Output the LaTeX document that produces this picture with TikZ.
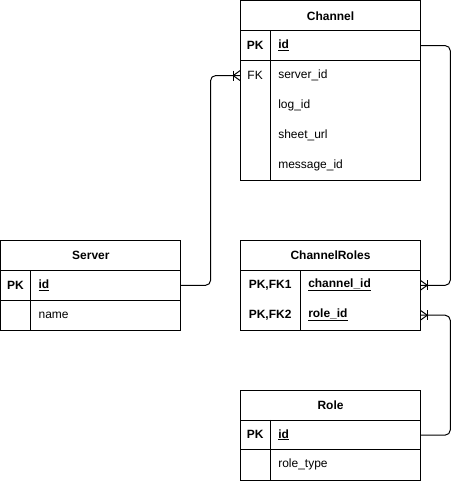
\documentclass[tikz,border=0pt]{standalone}
\usepackage{fontspec}
\setmainfont{Liberation Sans}
\begin{document}
\begin{tikzpicture}[x=1pt,y=-1pt,
  every node/.style={font=\fontsize{12pt}{14pt}\selectfont},
  cell/.style={draw, line width=1pt, rectangle, inner sep=0pt, anchor=north west, minimum width=180pt},
  row/.style={rectangle, inner sep=0pt, anchor=north west, minimum width=180pt, minimum height=30pt},
  keytxt/.style={font=\fontsize{12pt}{14pt}\selectfont\bfseries, inner sep=0pt, anchor=center},
  fktxt/.style={inner sep=0pt, anchor=center},
  attr/.style={inner sep=0pt, anchor=west},
  sep/.style={line width=1pt},
  rel/.style={line width=1pt, rounded corners=5pt},
  foot/.style={line width=1pt}
]
\useasboundingbox (-0.5,-0.5) rectangle (458.5,481.2);

% ---------------- Channel ----------------
\node[cell, minimum height=30pt] (chT) at (240,0) {\bfseries Channel};
\node[cell, minimum height=150pt] (chB) at (240,30) {};
\draw[sep] (chB.north west) ++(30,0) -- ++(0,150);
\draw[sep] (240,60) -- (420,60);
\node[row] (chRid) at (240,30) {};
\node[row] (chRsrv) at (240,60) {};
\node[row] (chRlog) at (240,90) {};
\node[row] (chRsheet) at (240,120) {};
\node[row] (chRmsg) at (240,150) {};
\node[keytxt] (chPK) at (255,45) {PK};
\node[attr] (chid) at (278,45) {\bfseries\underline{id}};
\node[fktxt] (chFK) at (255,75) {FK};
\node[attr] (chsrv) at (278,75) {server\_id};
\node[attr] (chlog) at (278,105) {log\_id};
\node[attr] (chsheet) at (278,135) {sheet\_url};
\node[attr] (chmsg) at (278,165) {message\_id};

% ---------------- Server ----------------
\node[cell, minimum height=30pt] (svT) at (0,240) {\bfseries Server};
\node[cell, minimum height=60pt] (svB) at (0,270) {};
\draw[sep] (30,270) -- (30,330);
\draw[sep] (0,300) -- (180,300);
\node[row] (svRid) at (0,270) {};
\node[row] (svRname) at (0,300) {};
\node[keytxt] (svPK) at (15,285) {PK};
\node[attr] (svid) at (38,285) {\bfseries\underline{id}};
\node[attr] (svname) at (38,315) {name};

% ---------------- ChannelRoles ----------------
\node[cell, minimum height=30pt] (crT) at (240,240) {\bfseries ChannelRoles};
\node[cell, minimum height=60pt] (crB) at (240,270) {};
\draw[sep] (300,270) -- (300,330);
\node[row] (crRch) at (240,270) {};
\node[row] (crRrole) at (240,300) {};
\node[keytxt] (crK1) at (270,285) {PK,FK1};
\node[keytxt] (crK2) at (270,315) {PK,FK2};
\node[attr] (crch) at (308,285) {\bfseries\underline{channel\_id}};
\node[attr] (crrole) at (308,315) {\bfseries\underline{role\_id}};

% ---------------- Role ----------------
\node[cell, minimum height=30pt] (roT) at (240,390) {\bfseries Role};
\node[cell, minimum height=60pt] (roB) at (240,420) {};
\draw[sep] (270,420) -- (270,480);
\draw[sep] (240,450) -- (420,450);
\node[row] (roRid) at (240,420) {};
\node[row] (roRtype) at (240,450) {};
\node[keytxt] (roPK) at (255,435) {PK};
\node[attr] (roid) at (278,435) {\bfseries\underline{id}};
\node[attr] (rotype) at (278,465) {role\_type};

% ---------------- Relations ----------------
\draw[rel] (svRid.east) -- ++(30,0) |- (chRsrv.west);
\draw[rel] (chRid.east) -- ++(30,0) |- (crRch.east);
\draw[rel] (roRid.east) -- ++(30,0) |- (crRrole.east);

% crow's feet
\draw[foot] (chRsrv.west) ++(0,-5) -- ++(-7,5) -- ++(7,5);
\draw[foot] (chRsrv.west) ++(-7,-5) -- ++(0,10);
\draw[foot] (crRch.east) ++(0,-5) -- ++(7,5) -- ++(-7,5);
\draw[foot] (crRch.east) ++(7,-5) -- ++(0,10);
\draw[foot] (crRrole.east) ++(0,-5) -- ++(7,5) -- ++(-7,5);
\draw[foot] (crRrole.east) ++(7,-5) -- ++(0,10);
\end{tikzpicture}
\end{document}
